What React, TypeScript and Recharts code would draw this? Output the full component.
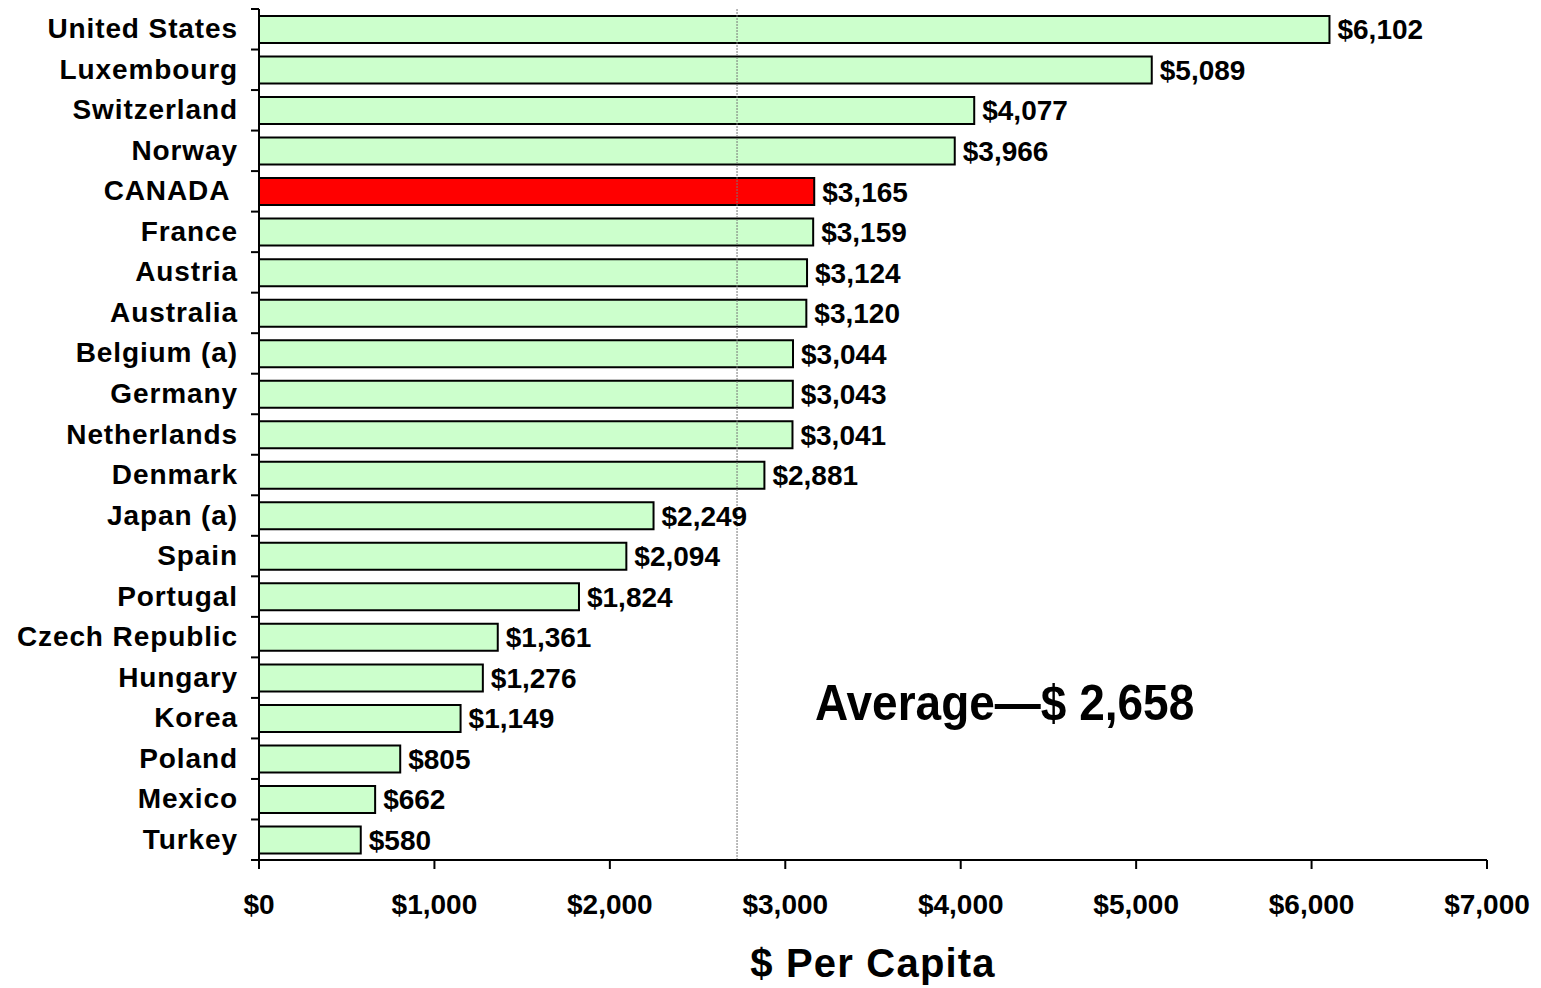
import React from 'react';
import { BarChart, Bar, XAxis, YAxis, Cell, LabelList, ReferenceLine, Label } from 'recharts';

const countries = [
  'United States', 'Luxembourg', 'Switzerland', 'Norway', 'CANADA ', 'France', 'Austria',
  'Australia', 'Belgium (a)', 'Germany', 'Netherlands', 'Denmark', 'Japan (a)', 'Spain',
  'Portugal', 'Czech Republic', 'Hungary', 'Korea', 'Poland', 'Mexico', 'Turkey',
];
const perCapita = [
  6102, 5089, 4077, 3966, 3165, 3159, 3124, 3120, 3044, 3043, 3041, 2881, 2249, 2094,
  1824, 1361, 1276, 1149, 805, 662, 580,
];
const highlighted = 'CANADA ';
const xTicks = [0, 1000, 2000, 3000, 4000, 5000, 6000, 7000];
const averageLineValue = 2725;
const averageText = 'Average\u2014$ 2,658';
const xAxisTitle = '$ Per Capita';

const data = countries.map((c, i) => ({ country: c, value: perCapita[i] }));

const FONT = '"Liberation Sans", Arial, sans-serif';
const fmt = (v: number) => '$' + v.toLocaleString('en-US');

const Y_TICK_SIZE = 8;
const Y_TICK_MARGIN = 13;

const YTick = (props: any) => {
  const { x, y, payload, index } = props;
  const half = payload && typeof payload.offset === 'number' ? payload.offset : 0;
  const axisX = x + Y_TICK_SIZE + Y_TICK_MARGIN;
  const last = index === countries.length - 1;
  return (
    <g>
      <line x1={axisX - Y_TICK_SIZE} x2={axisX} y1={y - half} y2={y - half} stroke="#000" strokeWidth={2} />
      {last && (
        <line x1={axisX - Y_TICK_SIZE} x2={axisX} y1={y + half} y2={y + half} stroke="#000" strokeWidth={2} />
      )}
      <text
        x={x}
        y={y}
        dy={9}
        textAnchor="end"
        fontFamily={FONT}
        fontWeight="bold"
        fontSize={28}
        letterSpacing={0.9}
        fill="#000"
        style={{ whiteSpace: 'pre' }}
      >
        {payload.value}
      </text>
    </g>
  );
};

export default function App() {
  return (
    <div style={{ position: 'absolute', left: 0, top: 0, width: 1541, height: 988, background: '#fff' }}>
      <BarChart
        width={1541}
        height={988}
        data={data}
        layout="vertical"
        margin={{ top: 9, right: 54, bottom: 0, left: 0 }}
        barSize={27}
      >
        <XAxis
          type="number"
          domain={[0, 7000]}
          ticks={xTicks}
          tickFormatter={fmt}
          height={128}
          tickSize={9}
          tickMargin={25}
          axisLine={{ stroke: '#000', strokeWidth: 2 }}
          tickLine={{ stroke: '#000', strokeWidth: 2 }}
          tick={{ fill: '#000', fontFamily: FONT, fontWeight: 'bold', fontSize: 28 }}
          interval={0}
        >
          <Label
            value={xAxisTitle}
            position="insideBottom"
            offset={11}
            style={{ fill: '#000', fontFamily: FONT, fontWeight: 'bold', fontSize: 40, letterSpacing: 1.2 }}
          />
        </XAxis>
        <YAxis
          type="category"
          dataKey="country"
          width={259}
          tickSize={Y_TICK_SIZE}
          tickMargin={Y_TICK_MARGIN}
          tickLine={false}
          axisLine={{ stroke: '#000', strokeWidth: 2 }}
          tick={<YTick />}
          interval={0}
        />
        <ReferenceLine x={averageLineValue} stroke="#777" strokeWidth={1} strokeDasharray="2 1" ifOverflow="extendDomain" />
        <Bar dataKey="value" stroke="#000" strokeWidth={2} isAnimationActive={false}>
          {data.map((d) => (
            <Cell key={d.country} fill={d.country === highlighted ? '#FF0000' : '#CCFFCC'} />
          ))}
          <LabelList
            dataKey="value"
            position="right"
            offset={8}
            formatter={(v: any) => fmt(Number(v))}
            style={{ fill: '#000', fontFamily: FONT, fontWeight: 'bold', fontSize: 28 }}
          />
        </Bar>
      </BarChart>
      <svg width={1541} height={988} style={{ position: 'absolute', left: 0, top: 0, pointerEvents: 'none' }}>
        <text
          transform="translate(815,720) scale(1,1.1)"
          fontFamily={FONT}
          fontWeight="bold"
          fontSize={46}
          fill="#000"
        >
          {averageText}
        </text>
      </svg>
    </div>
  );
}
